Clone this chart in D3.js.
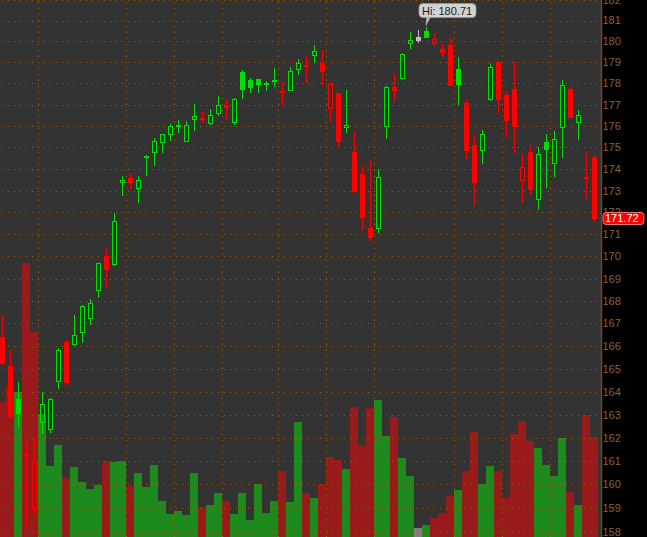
<!DOCTYPE html>
<html>
<head>
<meta charset="utf-8">
<script src="https://cdn.jsdelivr.net/npm/d3@7"></script>
<style>
html,body{margin:0;padding:0;background:#000;}
svg{display:block;}
text{font-family:"Liberation Sans",Arial,sans-serif;}
</style>
</head>
<body>
<div id="chart"></div>
<script>
// ---- data ----
const opens  = [166.38,165.12,163.68,161.22,158.96,162.65,162.35,164.43,166.18,166.04,166.59,167.21,168.46,170.02,169.62,173.33,173.58,173.09,174.60,174.75,175.21,175.59,176.04,175.26,176.26,176.39,176.07,176.54,176.93,176.12,178.54,178.16,178.21,178.03,178.15,177.54,177.65,178.62,178.76,179.28,178.98,176.78,177.54,175.89,174.78,173.78,171.29,171.24,175.96,177.82,178.21,179.86,180.21,180.49,179.89,179.63,179.82,178.68,177.07,175.11,174.84,177.21,179.03,177.45,177.73,173.43,174.78,172.58,175.25,174.24,175.91,177.73,176.15,173.52,174.55];
const highs  = [167.37,165.82,164.42,161.86,161.99,163.98,163.70,165.91,166.26,167.37,167.82,168.09,169.72,170.38,171.97,173.67,173.81,173.67,174.64,175.43,175.62,176.09,176.27,176.21,177.03,176.65,176.79,177.40,177.21,177.29,178.63,178.25,178.22,178.11,178.73,178.06,178.78,179.16,179.35,179.82,179.58,178.08,177.54,177.69,175.71,174.15,174.41,173.99,177.87,178.44,179.44,180.45,180.56,180.71,180.40,179.89,180.16,179.25,177.21,175.57,175.81,178.96,179.07,177.65,179.06,174.73,175.09,175.03,175.63,175.76,178.16,177.83,176.76,174.78,174.64];
const lows   = [165.18,162.85,162.46,158.25,158.71,162.22,162.22,164.11,164.26,166.00,166.14,166.94,168.14,168.59,169.58,172.75,173.06,172.44,173.67,174.15,174.75,175.31,175.68,175.25,175.77,176.13,176.03,176.45,176.27,176.03,177.28,177.56,177.56,177.65,177.84,176.99,177.64,178.40,178.03,178.98,177.92,176.20,174.98,175.68,172.87,171.20,170.71,171.07,175.37,177.12,178.16,179.63,179.93,180.16,179.79,179.22,177.88,176.99,174.47,172.31,174.24,177.18,176.62,175.45,174.70,172.42,172.81,172.11,173.13,173.64,174.52,176.37,175.35,172.58,171.57];
const closes = [165.22,162.91,163.03,161.30,161.00,163.46,163.68,165.82,164.39,166.49,167.77,167.91,169.70,169.40,171.61,173.49,173.36,173.49,174.50,175.29,175.62,175.99,175.96,176.03,176.45,176.35,176.50,176.96,176.88,177.25,177.70,177.79,177.94,177.98,178.10,177.64,178.59,178.96,178.86,179.54,178.55,177.97,175.26,176.04,172.95,171.76,170.85,173.63,177.84,177.64,179.39,180.05,180.03,180.17,180.11,179.46,177.89,177.94,174.84,173.36,175.62,178.78,177.23,176.24,175.96,174.09,173.04,174.69,174.89,175.39,177.92,176.38,176.50,173.61,171.72];
// change vs previous close: u = up, d = down, f = unchanged
const dirs = ["d","d","u","d","d","u","u","u","d","u","u","u","u","d","u","u","d","u","u","u","u","u","u","u","u","d","u","u","d","u","u","u","u","u","u","d","u","u","d","u","d","d","d","u","d","d","d","u","u","d","u","u","f","u","d","d","d","u","d","d","u","u","d","d","d","d","d","u","u","u","u","d","u","d","d"];
const volumes = [45.1,50.3,48.3,91.3,68.4,41.0,23.7,30.7,19.7,23.3,18.3,16.0,17.3,25.3,25.0,25.3,17.0,21.3,16.7,24.0,12.0,7.7,8.7,7.3,21.3,10.0,10.7,14.7,12.0,7.7,14.7,5.7,17.7,8.0,12.0,22.0,11.7,38.3,14.7,13.0,17.7,26.7,25.7,22.7,43.3,30.3,43.0,45.7,33.7,40.0,26.3,20.3,3.0,4.0,6.3,8.0,13.7,15.7,22.0,35.0,17.7,23.7,22.0,13.0,34.3,38.7,32.0,29.7,24.0,20.3,33.0,15.0,10.7,40.7,33.3];
const gridBars = [5,16,22,28,35,41,47,57,63,69];
const priceTicks = d3.range(158, 183);

// ---- layout ----
const W = 647, H = 537, plotR = 601;
const n = closes.length;
const idx = d3.range(n);
const x = d3.scaleBand().domain(idx).range([-2, -2 + 8 * n]).padding(0);
const y = d3.scaleLog().domain([157.78, 181.99]).range([H, 0]);
const yv = d3.scaleLinear().domain([0, 100]).range([H, H - 300]);

const upC = "#00e000", dnC = "#ff0000", flatC = "#c0c0c0";
const volUp = "#1d8a1d", volDn = "#981a1a", volFlat = "#7f7f7f";
const gridC = "#9a5f14";

const svg = d3.select("#chart").append("svg").attr("width", W).attr("height", H);
svg.append("rect").attr("width", W).attr("height", H).attr("fill", "#000");
svg.append("rect").attr("width", plotR).attr("height", H).attr("fill", "#333333");

const plot = svg.append("g");
// volume
plot.append("g").attr("shape-rendering", "crispEdges").selectAll("rect").data(idx).join("rect")
  .attr("x", i => x(i)).attr("width", x.bandwidth())
  .attr("y", i => Math.round(yv(volumes[i])))
  .attr("height", i => H - Math.round(yv(volumes[i])))
  .attr("fill", i => dirs[i] === "u" ? volUp : dirs[i] === "d" ? volDn : volFlat);

// grid
const grid = plot.append("g").attr("stroke", gridC).attr("stroke-width", 1).attr("stroke-dasharray", "1,5").attr("stroke-dashoffset", -2);
grid.selectAll("line.h").data(priceTicks).join("line").attr("class", "h")
  .attr("x1", 0).attr("x2", plotR)
  .attr("y1", d => Math.round(y(d)) + 0.5).attr("y2", d => Math.round(y(d)) + 0.5);
grid.selectAll("line.v").data(gridBars).join("line").attr("class", "v")
  .attr("x1", d => x(d) + 0.5).attr("x2", d => x(d) + 0.5)
  .attr("y1", 0).attr("y2", H);

// candles
const colorOf = i => dirs[i] === "u" ? upC : dirs[i] === "d" ? dnC : flatC;
const cg = plot.append("g").attr("shape-rendering", "crispEdges");
idx.forEach(i => {
  const c = colorOf(i);
  const bx = x(i) + 2;
  const wx = bx + 2.5;
  const top = Math.round(y(Math.max(opens[i], closes[i])));
  const bot = Math.round(y(Math.min(opens[i], closes[i])));
  const hy = Math.round(y(highs[i])), ly = Math.round(y(lows[i]));
  const g = cg.append("g");
  if (hy < top) g.append("line").attr("x1", wx).attr("x2", wx).attr("y1", hy).attr("y2", top).attr("stroke", c);
  if (ly > bot) g.append("line").attr("x1", wx).attr("x2", wx).attr("y1", bot).attr("y2", ly).attr("stroke", c);
  const hollow = closes[i] > opens[i];
  if (hollow) {
    g.append("rect").attr("x", bx + 0.5).attr("y", top + 0.5).attr("width", 4)
      .attr("height", Math.max(bot - top - 1, 1)).attr("fill", "none").attr("stroke", c);
  } else {
    g.append("rect").attr("x", bx).attr("y", top).attr("width", 5)
      .attr("height", Math.max(bot - top, 2)).attr("fill", c);
  }
});

// right axis
const ax = svg.append("g");
ax.append("line").attr("x1", plotR + 0.5).attr("x2", plotR + 0.5).attr("y1", 0).attr("y2", H)
  .attr("stroke", "#6f4a1e").attr("stroke-width", 1.5);
ax.selectAll("text").data(priceTicks).join("text")
  .attr("x", plotR + 1.5).attr("y", d => y(d)).attr("dy", "0.36em")
  .attr("font-size", 11).attr("fill", "#8b6232").text(d => d);

// last price tag
const last = closes[n - 1];
const ly0 = y(last);
svg.append("rect").attr("x", 603).attr("y", Math.round(ly0) - 6.5).attr("width", 41).attr("height", 12)
  .attr("rx", 3).attr("fill", "#ff0000").attr("stroke", "#ff9090").attr("stroke-width", 0.8);
svg.append("text").attr("x", 605).attr("y", ly0).attr("dy", "0.36em").attr("font-size", 11)
  .attr("fill", "#ffffff").text(d3.format(".2f")(last));

// high bubble
const hiIdx = d3.maxIndex(highs);
const hiX = x(hiIdx) + 4.5, hiY = y(highs[hiIdx]);
const bub = svg.append("g");
bub.append("path").attr("d", `M${hiX - 0.5},${hiY - 1} L${hiX},${hiY - 10} L${hiX + 4},${hiY - 10} Z`)
  .attr("fill", "#c8c8c8").attr("stroke", "#9a9a9a").attr("stroke-width", 0.6);
bub.append("rect").attr("x", hiX - 7.5).attr("y", hiY - 23).attr("width", 57).attr("height", 14)
  .attr("rx", 4).attr("fill", "#d2d2d2").attr("stroke", "#9a9a9a").attr("stroke-width", 0.8);
bub.append("text").attr("x", hiX - 4.5).attr("y", hiY - 16).attr("dy", "0.36em").attr("font-size", 11)
  .attr("fill", "#1a1a1a").text("Hi: " + d3.format(".2f")(highs[hiIdx]));
</script>
</body>
</html>
